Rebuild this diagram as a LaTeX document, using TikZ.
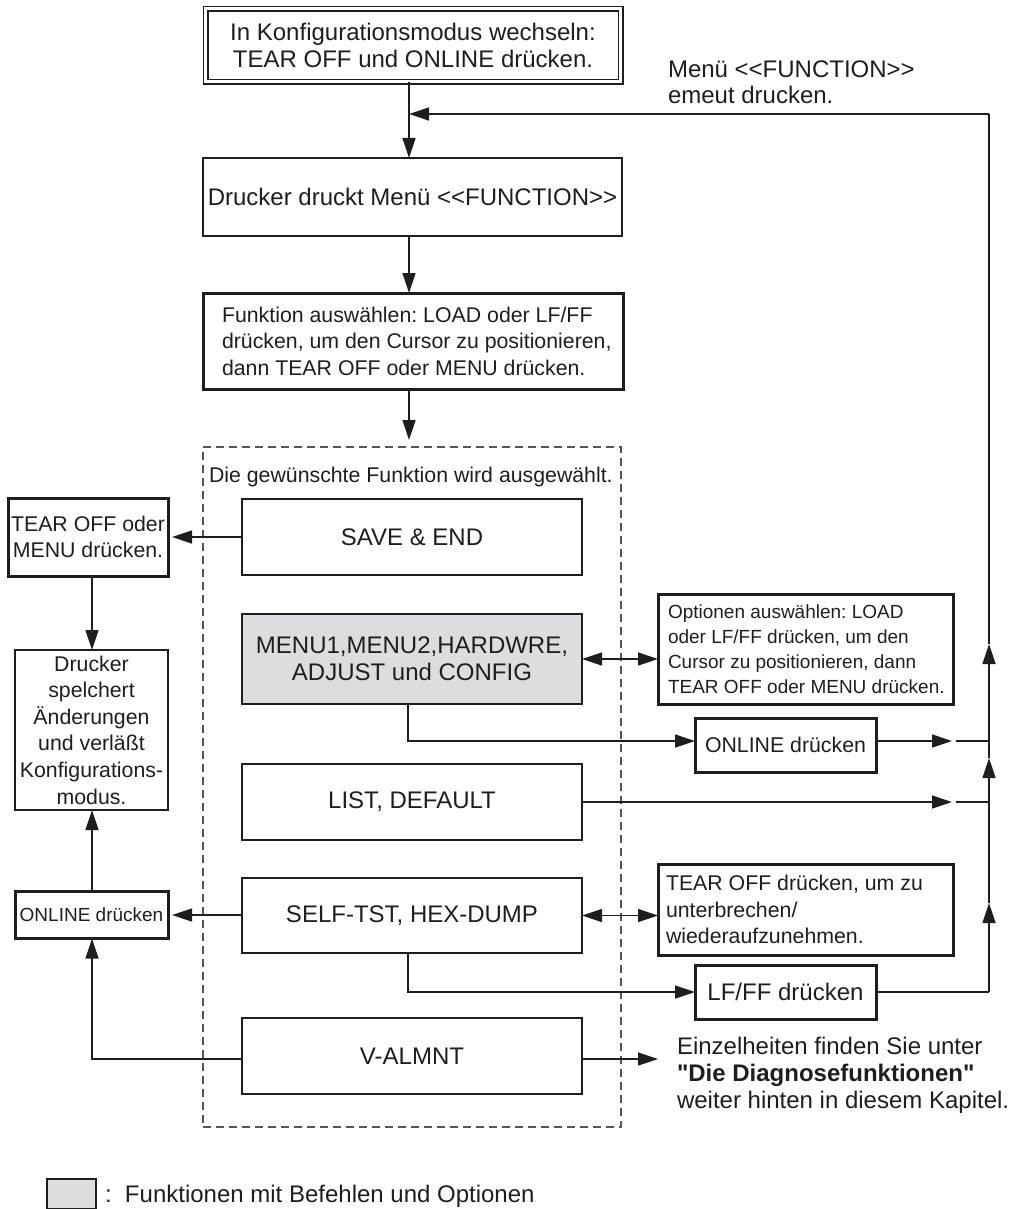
\documentclass[tikz,border=0pt]{standalone}
\usepackage{fontspec}
\setmainfont{Liberation Sans}
\usetikzlibrary{arrows.meta}
\definecolor{ink}{HTML}{1E1E1E}
\definecolor{boxgray}{HTML}{DCDDDF}
\definecolor{dashgray}{HTML}{555555}
\newcommand\fA{\fontsize{24}{27}\selectfont}
\newcommand\fB{\fontsize{21.3}{26.6}\selectfont}
\newcommand\fC{\fontsize{19}{25}\selectfont}
\newcommand\straightquote{\XeTeXglyph\numexpr\XeTeXcharglyph"22\relax}
\frenchspacing
\begin{document}
\begin{tikzpicture}[x=1pt,y=-1pt,
  every node/.style={inner sep=0pt, outer sep=0pt, text=ink},
  box/.style={draw=ink, line width=1.3pt, align=center},
  thickbox/.style={draw=ink, line width=3pt, align=center},
  conn/.style={draw=ink, line width=1.3pt},
  arr/.style={conn, -{Triangle[length=20pt,width=13pt]}},
  darr/.style={conn, {Triangle[length=20pt,width=13pt]}-{Triangle[length=20pt,width=13pt]}},
]
\useasboundingbox (0,0) rectangle (1013,1209);

% column coordinates
\coordinate (spine) at (409,0);
\coordinate (lspine) at (92,0);
\coordinate (rspine) at (989,0);
\coordinate (mspine) at (408,0);

% top box
\node[draw=ink, double, double distance=3pt, line width=1.5pt, align=center,
      minimum width=415pt, minimum height=73pt, font=\fA] (top) at (413,45.5)
  {In Konfigurationsmodus wechseln:\\TEAR OFF und ONLINE drücken.};

\node[box, minimum width=419pt, minimum height=78pt, font=\fA] (drucker) at (412.5,197)
  {Drucker druckt Menü <{}<FUNCTION>{}>};

\node[thickbox, minimum width=420pt, minimum height=96pt,
  label={[anchor=west, xshift=19pt, align=left, font=\fB]west:Funktion auswählen: LOAD oder LF/FF\\drücken, um den Cursor zu positionieren,\\dann TEAR OFF oder MENU drücken.}] (funktion) at (413,341) {};

% dashed group
\node[draw=dashgray, line width=1.4pt, dash pattern=on 8pt off 5pt,
      minimum width=418pt, minimum height=680pt] (group) at (412,787) {};
\node[anchor=west, font=\fontsize{21.3}{25}\selectfont] (grouplabel) at (209,477)
  {Die gewünschte Funktion wird ausgewählt.};

\node[box, minimum width=340pt, minimum height=76pt, font=\fA] (save) at (412,537) {SAVE \& END};
\node[box, minimum width=340pt, minimum height=90pt, fill=boxgray, font=\fA] (menu) at (412,659)
  {MENU1,MENU2,HARDWRE,\\ADJUST und CONFIG};
\node[box, minimum width=340pt, minimum height=76pt, font=\fA] (list) at (412,802) {LIST, DEFAULT};
\node[box, minimum width=340pt, minimum height=75pt, font=\fA] (self) at (412,915.5) {SELF-TST, HEX-DUMP};
\node[box, minimum width=340pt, minimum height=76pt, font=\fA] (valmnt) at (412,1056) {V-ALMNT};

% left column
\node[thickbox, minimum width=160pt, minimum height=78pt, font=\fB] (tear) at (88,537)
  {TEAR OFF oder\\MENU drücken.};
\node[box, minimum width=153pt, minimum height=160pt, font=\fB] (speichert) at (91.5,730)
  {Drucker\\spelchert\\Änderungen\\und verläßt\\Konfigurations-\\modus.};
\node[thickbox, minimum width=153pt, minimum height=47pt, font=\fC] (onlineL) at (91.5,915)
  {ONLINE drücken};

% right column
\node[thickbox, minimum width=295pt, minimum height=110pt,
  label={[anchor=west, xshift=10pt, align=left, font=\fC]west:Optionen auswählen: LOAD\\oder LF/FF drücken, um den\\Cursor zu positionieren, dann\\TEAR OFF oder MENU drücken.}] (options) at (805.5,649) {};
\node[thickbox, minimum width=181pt, minimum height=54pt, font=\fB] (onlineR) at (785.5,745) {ONLINE drücken};
\node[thickbox, minimum width=295pt, minimum height=91pt,
  label={[anchor=west, xshift=8pt, align=left, font=\fB]west:TEAR OFF drücken, um zu\\unterbrechen/\\wiederaufzunehmen.}] (tearR) at (805.5,909.5) {};
\node[thickbox, minimum width=181pt, minimum height=54pt, font=\fA] (lfff) at (785.5,992) {LF/FF drücken};

% free texts
\node[anchor=west, align=left, font=\fontsize{24}{25.5}\selectfont] (menutext) at (668,82)
  {Menü <{}<FUNCTION>{}>\\emeut drucken.};
\node[anchor=west, align=left, font=\fA] (einzel) at (677,1075)
  {Einzelheiten finden Sie unter\\\textbf{\straightquote Die Diagnosefunktionen\straightquote}\\weiter hinten in diesem Kapitel.};

% legend
\node[draw=ink, line width=1.3pt, fill=boxgray, minimum width=49pt, minimum height=30pt] (legbox) at (71.5,1194) {};
\node[anchor=west, font=\fA] (legtext) at (105,1196) {:~~Funktionen mit Befehlen und Optionen};

% coordinates for connector ends
\coordinate (fbR) at (989,114);
\coordinate (fbL) at (409,114);
\coordinate (ontip) at (952,741);
\coordinate (onjoin) at (956,741);
\coordinate (ontR) at (989,741);
\coordinate (lstip) at (952,802);
\coordinate (lsjoin) at (956,802);
\coordinate (lsR) at (989,802);
\coordinate (lfR) at (989,992);
\coordinate (up1) at (989,903);
\coordinate (up2) at (989,758);
\coordinate (up3) at (989,644);
\coordinate (vaL) at (92,1059);
\coordinate (vatip) at (658,1059);

% main spine
\draw[arr] (fbR) -- (fbL);
\draw[arr] (top.south -| spine) -- (drucker.north -| spine);
\draw[arr] (drucker.south -| spine) -- (funktion.north -| spine);
\draw[arr, shorten >=7pt] (funktion.south -| spine) -- (group.north -| spine);

% left side
\draw[arr, shorten >=4pt] (save.west) -- (tear.east);
\draw[arr] (tear.south -| lspine) -- (speichert.north -| lspine);
\draw[arr, shorten >=4pt] (self.west |- onlineL.east) -- (onlineL.east);
\draw[arr] (onlineL.north -| lspine) -- (speichert.south -| lspine);
\draw[arr] (valmnt.west |- vaL) -- (vaL) -- (onlineL.south -| lspine);

% right side
\draw[darr] (menu.east) -- (options.west |- menu.east);
\draw[darr] (self.east) -- (tearR.west |- self.east);
\draw[arr] (menu.south -| mspine) |- (onlineR.west |- ontip);
\draw[arr] (onlineR.east |- ontip) -- (ontip);
\draw[conn] (onjoin) -- (ontR);
\draw[arr] (list.east) -- (lstip);
\draw[conn] (lsjoin) -- (lsR);
\draw[arr] (self.south -| mspine) |- (lfff.west);
\draw[conn] (lfff.east) -- (lfR);
\draw[arr] (lfR) -- (up1);
\draw[arr] (up1) -- (up2);
\draw[arr] (up2) -- (up3);
\draw[conn] (up3) -- (fbR);
\draw[arr] (valmnt.east |- vatip) -- (vatip);
\end{tikzpicture}
\end{document}
